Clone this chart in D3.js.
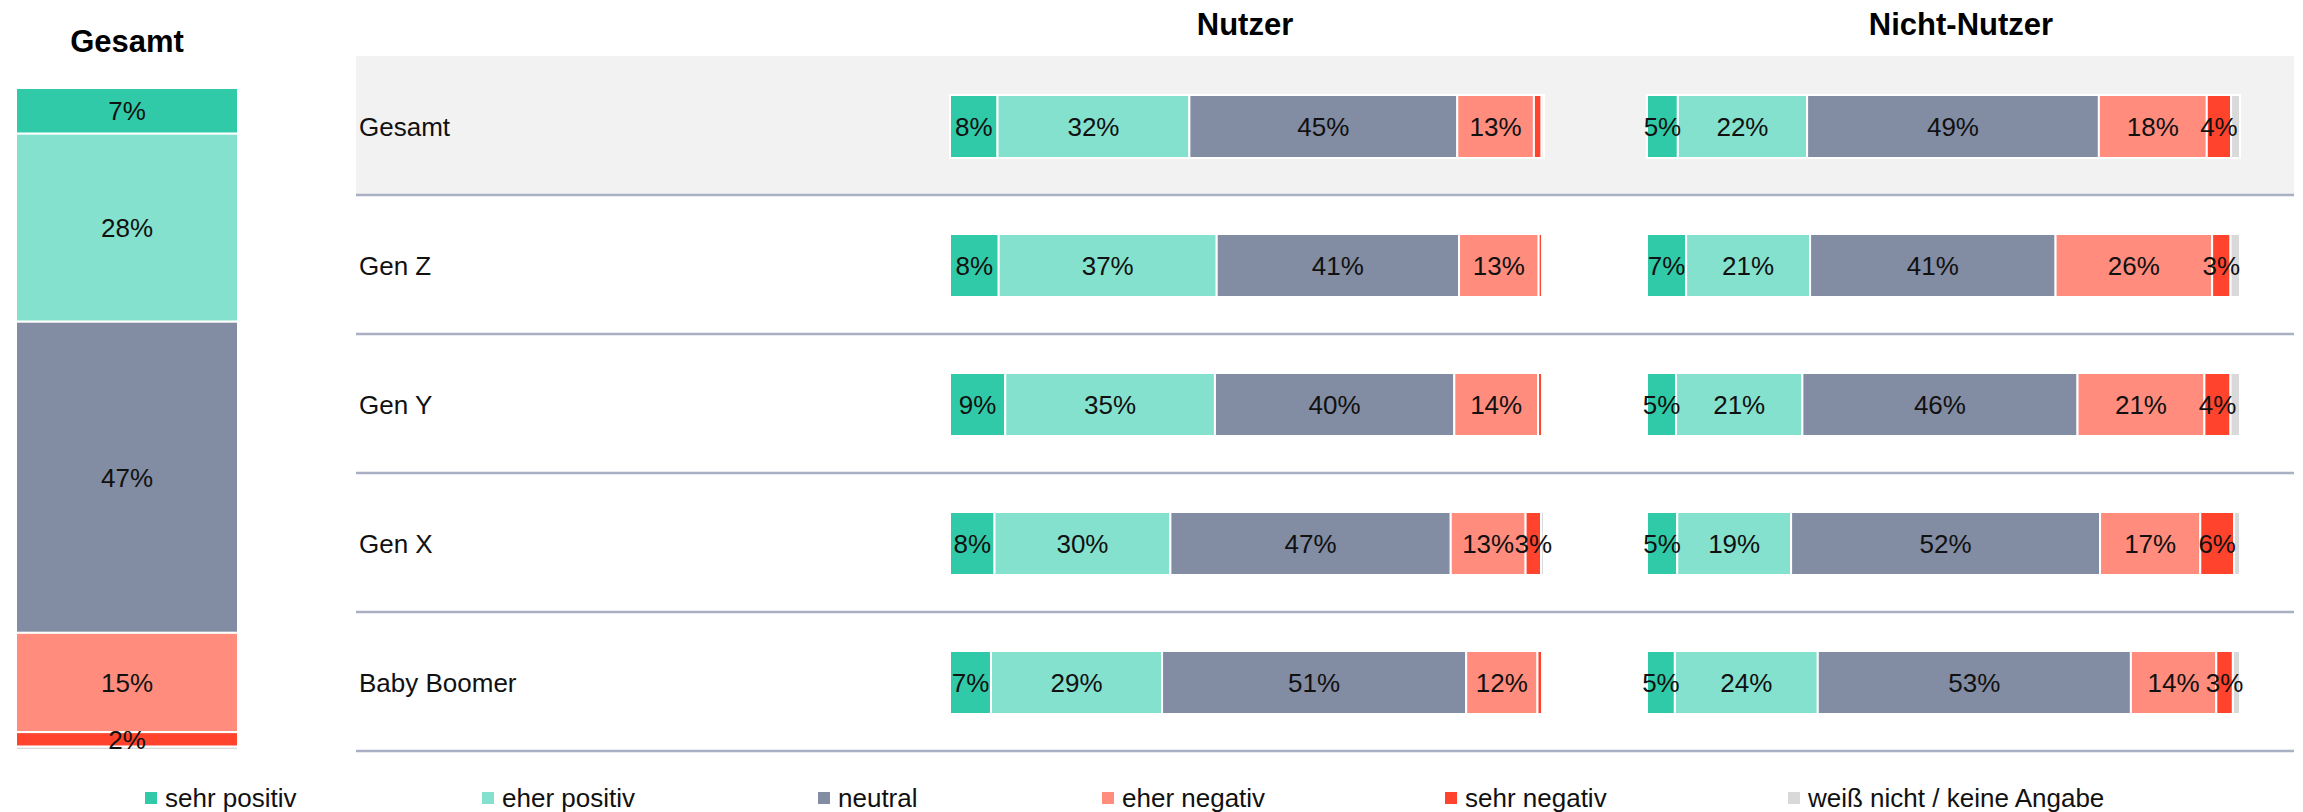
<!DOCTYPE html>
<html>
<head>
<meta charset="utf-8">
<script src="https://cdn.jsdelivr.net/npm/d3@7"></script>
<style>
  body { margin: 0; background: #fff; }
  text { font-family: "Liberation Sans", Arial, sans-serif; }
</style>
</head>
<body>
<svg id="chart"></svg>
<script>
// categories + colours
const categories = ["sehr positiv", "eher positiv", "neutral", "eher negativ", "sehr negativ", "weiß nicht / keine Angabe"];
const colors = ["#30caa8", "#84e1cd", "#828ca3", "#ff8c7d", "#ff432d", "#d9d9d9"];

const groups = ["Gesamt", "Gen Z", "Gen Y", "Gen X", "Baby Boomer"];
const panelTitles = ["Nutzer", "Nicht-Nutzer"];

// values in percent
const gesamtValues = [6.9, 28.4, 47.0, 15.0, 2.2, 0.5];

const nutzerValues = [
  [8.0, 32.3, 45.1, 12.9, 1.3, 0.4],
  [8.2, 36.7, 40.8, 13.4, 0.6, 0.3],
  [9.3, 35.3, 40.3, 14.1, 0.7, 0.3],
  [7.5, 29.6, 47.2, 12.6, 2.6, 0.5],
  [6.9, 28.8, 51.2, 12.0, 0.8, 0.3]
];

const nichtNutzerValues = [
  [5.2, 21.8, 49.2, 18.2, 4.1, 1.5],
  [6.6, 20.9, 41.4, 26.4, 3.1, 1.6],
  [4.9, 21.3, 46.4, 21.4, 4.4, 1.6],
  [5.1, 19.2, 52.1, 16.9, 5.7, 1.0],
  [4.7, 24.1, 52.8, 14.4, 2.8, 1.2]
];

const legendX = [145, 482, 818, 1102, 1445, 1788];

const width = 2303, height = 812;
const svg = d3.select("#chart").attr("width", width).attr("height", height);

const fmt = v => Math.round(v) + "%";
const showLabel = (v, i) => i < 5 && Math.round(v) >= 2;

// turn a value list into segments with start / end
const toSegments = vals => {
  const ends = d3.cumsum(vals);
  return vals.map((v, i) => ({ v, i, start: ends[i] - v, end: ends[i] }));
};

//////////////////// left: Gesamt column
const leftG = svg.append("g");
const yLeft = d3.scaleLinear().domain([0, 100]).range([88, 750]);
const leftX = 16, leftW = 222;

leftG.append("text")
  .attr("x", leftX + leftW / 2)
  .attr("y", 52)
  .attr("text-anchor", "middle")
  .attr("font-size", 31)
  .attr("font-weight", "bold")
  .text("Gesamt");

const leftSegs = toSegments(gesamtValues);
leftG.selectAll("rect").data(leftSegs).join("rect")
  .attr("x", leftX)
  .attr("y", d => yLeft(d.start))
  .attr("width", leftW)
  .attr("height", d => yLeft(d.end) - yLeft(d.start))
  .attr("fill", d => colors[d.i])
  .attr("stroke", "#fff")
  .attr("stroke-width", 2);

leftG.selectAll("text.lbl").data(leftSegs.filter(d => showLabel(d.v, d.i))).join("text")
  .attr("class", "lbl")
  .attr("x", leftX + leftW / 2)
  .attr("y", d => (yLeft(d.start) + yLeft(d.end)) / 2)
  .attr("dy", "0.36em")
  .attr("text-anchor", "middle")
  .attr("font-size", 26)
  .attr("fill", "#111")
  .text(d => fmt(d.v));

//////////////////// right: rows per generation
const rowTop = 56, rowH = 139;
const rowLeft = 356, rowRight = 2294;
const yRow = d3.scaleBand().domain(groups).range([rowTop, rowTop + rowH * groups.length]);
const barH = 63;

const rowsG = svg.append("g");

rowsG.append("rect")
  .attr("x", rowLeft)
  .attr("y", yRow("Gesamt"))
  .attr("width", rowRight - rowLeft)
  .attr("height", yRow.bandwidth())
  .attr("fill", "#f2f2f2");

rowsG.selectAll("line.sep").data(groups).join("line")
  .attr("class", "sep")
  .attr("x1", rowLeft).attr("x2", rowRight)
  .attr("y1", d => yRow(d) + yRow.bandwidth())
  .attr("y2", d => yRow(d) + yRow.bandwidth())
  .attr("stroke", "#a9b0c3")
  .attr("stroke-width", 2.5);

rowsG.selectAll("text.row").data(groups).join("text")
  .attr("class", "row")
  .attr("x", rowLeft + 3)
  .attr("y", d => yRow(d) + yRow.bandwidth() / 2 + 1)
  .attr("dy", "0.36em")
  .attr("font-size", 26)
  .attr("fill", "#111")
  .text(d => d);

const panels = [
  { title: panelTitles[0], values: nutzerValues, x0: 950, w: 594, titleX: 1245 },
  { title: panelTitles[1], values: nichtNutzerValues, x0: 1647, w: 593, titleX: 1961 }
];

panels.forEach(p => {
  const x = d3.scaleLinear().domain([0, 100]).range([p.x0, p.x0 + p.w]);
  const g = svg.append("g");

  g.append("text")
    .attr("x", p.titleX)
    .attr("y", 35)
    .attr("text-anchor", "middle")
    .attr("font-size", 31)
    .attr("font-weight", "bold")
    .text(p.title);

  const rowG = g.selectAll("g.bar").data(p.values).join("g")
    .attr("class", "bar")
    .attr("transform", (d, i) => `translate(0,${yRow(groups[i]) + yRow.bandwidth() / 2 - barH / 2 + 1})`);

  rowG.selectAll("rect").data(d => toSegments(d)).join("rect")
    .attr("x", d => x(d.start))
    .attr("y", 0)
    .attr("width", d => x(d.end) - x(d.start))
    .attr("height", barH)
    .attr("fill", d => colors[d.i])
    .attr("stroke", "#fff")
    .attr("stroke-width", 2);

  rowG.selectAll("text").data(d => toSegments(d).filter(s => showLabel(s.v, s.i))).join("text")
    .attr("x", d => (x(d.start) + x(d.end)) / 2)
    .attr("y", barH / 2)
    .attr("dy", "0.36em")
    .attr("text-anchor", "middle")
    .attr("font-size", 26)
    .attr("fill", "#111")
    .text(d => fmt(d.v));
});

//////////////////// legend
const legendG = svg.append("g");
const legendItems = legendG.selectAll("g").data(categories).join("g")
  .attr("transform", (d, i) => `translate(${legendX[i]},792)`);

legendItems.append("rect")
  .attr("width", 12)
  .attr("height", 12)
  .attr("fill", (d, i) => colors[i]);

legendItems.append("text")
  .attr("x", 20)
  .attr("y", 15)
  .attr("font-size", 26)
  .attr("fill", "#111")
  .text(d => d);
</script>
</body>
</html>
